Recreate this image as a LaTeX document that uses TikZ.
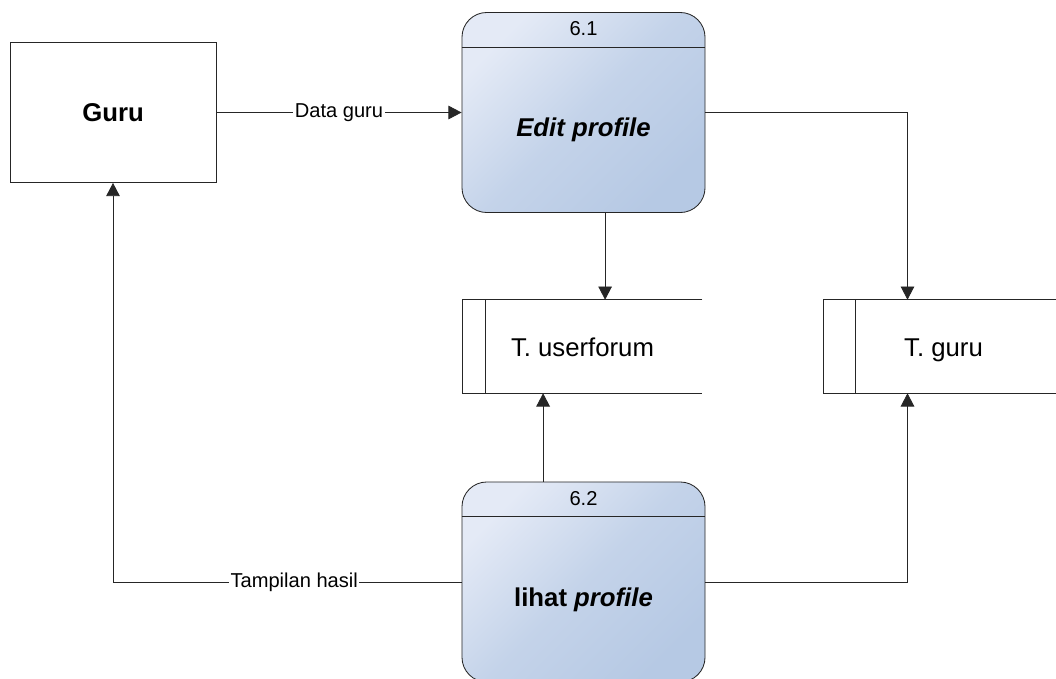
\documentclass[tikz,border=0pt]{standalone}
\usepackage{fontspec}
\setmainfont{Liberation Sans}
\usepackage{tikz}
\usetikzlibrary{shapes,arrows.meta}
\definecolor{procLight}{HTML}{E4EAF6}
\definecolor{procDark}{HTML}{B6C9E4}
\definecolor{edgeGray}{HTML}{262626}
\newcommand{\bigtext}{\fontsize{18.3}{22}\selectfont}
\newcommand{\smalltext}{\fontsize{14.3}{17}\selectfont}
\newcommand{\datastore}[4]{
  \node[storebox] (#1) at (#2) {#3};
  \draw[edge] (#1.north east) -- (#1.north west) -- (#1.south west) -- (#1.south east);
  \draw[edge] ([xshift=#4]#1.north west) -- ([xshift=#4]#1.south west);
}
\newcommand{\process}[4]{
  \node[procbox] (#1) at (#2) {};
  \draw[edge] ([yshift=-0.875cm]#1.north west) -- ([yshift=-0.875cm]#1.north east);
  \node[font=\smalltext] at ([yshift=-0.425cm]#1.north) {#3};
  \node[font=\bigtext\bfseries] at ([yshift=-0.44cm]#1.center) {#4};
}
\tikzset{
  edge/.style    = {draw=edgeGray, line width=0.6pt},
  flow/.style    = {edge, -{Triangle[length=3.3mm,width=3.4mm]}},
  entity/.style  = {draw=edgeGray, line width=0.6pt, rectangle, inner sep=0pt,
                    minimum width=5.15cm, minimum height=3.5cm, font=\bigtext\bfseries},
  procbox/.style = {draw=edgeGray, line width=0.6pt, rectangle, rounded corners=0.62cm,
                    inner sep=0pt, minimum width=6.075cm, minimum height=5cm,
                    top color=procLight, bottom color=procDark, shading angle=45,
                    middle color=procDark!70!procLight},
  storebox/.style = {rectangle, inner sep=0pt, minimum width=5.975cm,
                     minimum height=2.325cm, font=\bigtext,
                     text height=14pt, text depth=0pt},
  flowlabel/.style = {fill=white, inner sep=1pt, font=\smalltext}
}

\begin{document}
\begin{tikzpicture}[x=0.025cm, y=-0.025cm]
  \useasboundingbox (0,0) rectangle (1056,678);
  \node[entity] (guru) at (113,112.5) {Guru};
  \process{p1}{583.5,112.5}{6.1}{\itshape Edit profile}
  \process{p2}{583.5,582}{6.2}{lihat \itshape profile}
  \datastore{s1}{582.5,346.5}{T. userforum}{0.575cm}
  \datastore{s2}{943.5,346.5}{T. guru}{0.8cm}
  % flows
  \draw[flow] (guru.east) -- node[flowlabel] {Data guru} (p1.west);
  \draw[flow] (p1.east) -| ([xshift=-0.9cm]s2.north);
  \draw[flow] ([xshift=0.54cm]p1.south) -- ([xshift=0.54cm]p1.south |- s1.north);
  \draw[flow] ([xshift=-1.01cm]p2.north) -- ([xshift=-1.01cm]p2.north |- s1.south);
  \draw[flow] (p2.east) -| ([xshift=-0.9cm]s2.south);
  \draw[flow] (p2.west) -| node[flowlabel, pos=0.24] {Tampilan hasil} (guru.south);
\end{tikzpicture}
\end{document}
